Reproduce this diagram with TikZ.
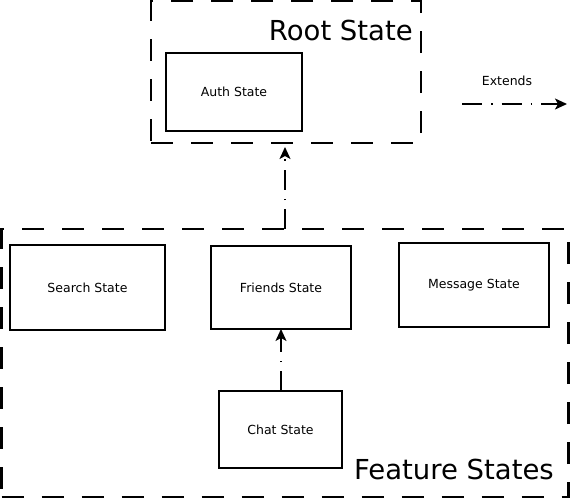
\documentclass[tikz,border=0pt]{standalone}
\usepackage{fontspec}
\setmainfont{DejaVu Sans}
\usetikzlibrary{arrows.meta}
\begin{document}
\begin{tikzpicture}[x=1pt,y=-1pt,
  container/.style={draw, line width=2.2pt, dash pattern=on 22pt off 18pt, inner sep=0pt, outer sep=0pt},
  statebox/.style={draw, line width=1.4pt, inner sep=0pt, outer sep=0pt, font=\fontsize{12.5}{15}\selectfont},
  biglabel/.style={inner sep=0pt, font=\fontsize{27.5}{32}\selectfont},
  smalllabel/.style={inner sep=0pt, font=\fontsize{12.5}{15}\selectfont},
  extarrow/.style={line width=1.6pt, dash pattern=on 20pt off 9pt on 1.5pt off 9pt, -{Stealth[length=12pt,width=11pt,inset=3pt]}}
]
\useasboundingbox (0,0) rectangle (570,499);
% containers
\node[container, minimum width=270pt, minimum height=142pt] (root) at (286,72) {};
\node[container, minimum width=567pt, minimum height=268pt] (feat) at (285,363) {};
\node[biglabel, anchor=base east] (rootlbl) at (413,40) {Root State};
\node[biglabel, anchor=base east] (featlbl) at (554,479) {Feature States};
% states
\node[statebox, minimum width=136pt, minimum height=78pt] (auth) at (234,92) {Auth State};
\node[statebox, minimum width=155pt, minimum height=85pt] (search) at (87.5,287.5) {Search State};
\node[statebox, minimum width=140pt, minimum height=83pt] (friends) at (281,287.5) {Friends State};
\node[statebox, minimum width=150pt, minimum height=84pt] (message) at (474,285) {Message State};
\node[statebox, minimum width=123pt, minimum height=77pt] (chat) at (280.5,429.5) {Chat State};
% legend
\coordinate (legA) at (462,104);
\coordinate (legB) at (567,104);
\node[smalllabel] (extlbl) at (507,81) {Extends};
\draw[extarrow] (legA) -- (legB);
% connectors
\draw[extarrow] (feat.north) -- ([yshift=-4pt]feat.north |- root.south);
\draw[extarrow] (chat.north -| friends.south) -- (friends.south);
\end{tikzpicture}
\end{document}
